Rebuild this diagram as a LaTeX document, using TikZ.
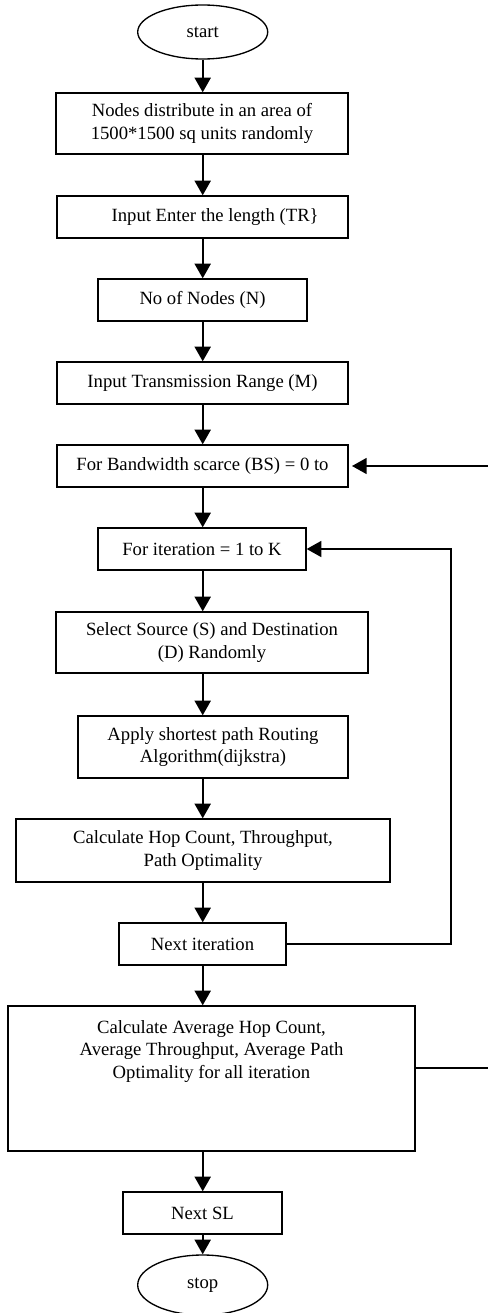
\documentclass[tikz,border=0pt]{standalone}
\usepackage{fontspec}
\setmainfont{Liberation Serif}
\usetikzlibrary{arrows.meta,calc,shapes.geometric}

\begin{document}
\begin{tikzpicture}[>={Triangle[length=11pt,width=12pt]}, x=0.75pt, y=-0.75pt,
		font=\fontsize{14}{16.8}\selectfont,
		box/.style={draw, line width=1pt, align=center, inner sep=0pt},
		term/.style={draw, line width=1pt, ellipse, inner sep=0pt, minimum width=97.5pt},
		flow/.style={->, line width=1.6pt},
		loop/.style={line width=1.2pt}]
		\useasboundingbox (0,0) rectangle (487,1313);
		\coordinate (axis) at (202.7,0);
		\coordinate (inner) at (451,0);
		\coordinate (outer) at (492,0);
		% boxes
		\node[term, minimum height=40.5pt] (start) at (202.7,32) {start};
		\node[box, minimum width=219pt, minimum height=45.75pt] (n1) at (202,123.5) {Nodes distribute in an area of\\ 1500*1500 sq units randomly};
		\node[box, minimum width=218.25pt, minimum height=31.5pt] (n2) at (202.5,217) {\hspace*{19pt}Input Enter the length (TR\}};
		\node[box, minimum width=156.75pt, minimum height=31.5pt] (n3) at (202.5,300) {No of Nodes (N)};
		\node[box, minimum width=218.25pt, minimum height=31.5pt] (n4) at (202.5,383) {Input Transmission Range (M)};
		\node[box, minimum width=218.25pt, minimum height=31.5pt] (n5) at (202.5,466) {For Bandwidth scarce (BS) = 0 to};
		\node[box, minimum width=156pt, minimum height=31.5pt] (n6) at (202,549) {For iteration = 1 to K};
		\node[box, minimum width=234pt, minimum height=45.75pt] (n7) at (212,642.5) {Select Source (S) and Destination\\ (D) Randomly};
		\node[box, minimum width=202.5pt, minimum height=46.5pt] (n8) at (213,747) {Apply shortest path Routing\\ Algorithm(dijkstra)};
		\node[box, minimum width=280.5pt, minimum height=47.25pt] (n9) at (203,850.5) {Calculate Hop Count, Throughput,\\ Path Optimality};
		\node[box, minimum width=125.25pt, minimum height=31.5pt] (n10) at (202.5,944) {Next iteration};
		\node[box, minimum width=305.25pt, minimum height=108.75pt] (n11) at (211.5,1078.5) {};
		\node[align=center, anchor=north, inner sep=3pt] (n11txt) at ($(n11.north)+(0,11)$) {Calculate Average Hop Count,\\ Average Throughput, Average Path\\ Optimality for all iteration};
		\node[box, minimum width=119.25pt, minimum height=31.5pt] (n12) at (202.5,1213) {Next SL};
		\node[term, minimum height=45pt] (stop) at (202.7,1285) {stop};
		% arrows
		\draw[flow] (axis |- start.south) -- (axis |- n1.north);
		\draw[flow] (axis |- n1.south) -- (axis |- n2.north);
		\draw[flow] (axis |- n2.south) -- (axis |- n3.north);
		\draw[flow] (axis |- n3.south) -- (axis |- n4.north);
		\draw[flow] (axis |- n4.south) -- (axis |- n5.north);
		\draw[flow] (axis |- n5.south) -- (axis |- n6.north);
		\draw[flow] (axis |- n6.south) -- (axis |- n7.north);
		\draw[flow] (axis |- n7.south) -- (axis |- n8.north);
		\draw[flow] (axis |- n8.south) -- (axis |- n9.north);
		\draw[flow] (axis |- n9.south) -- (axis |- n10.north);
		\draw[flow] (axis |- n10.south) -- (axis |- n11.north);
		\draw[flow] (axis |- n11.south) -- (axis |- n12.north);
		\draw[flow] (axis |- n12.south) -- (axis |- stop.north);
		% loops back
		\draw[loop, ->] (n10.east) -- (inner |- n10.east) -- (inner |- n6.east) -- (n6.east);
		\coordinate (avgout) at ($(n11.east)+(0,-10.5)$);
		\draw[loop, ->, shorten >=2.5pt] (avgout) -- (outer |- avgout) -- (outer |- n5.east) -- (n5.east);
	\end{tikzpicture}
\end{document}
